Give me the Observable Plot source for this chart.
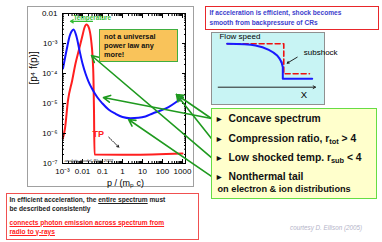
<!DOCTYPE html>
<html><head><meta charset="utf-8">
<script src="https://cdn.jsdelivr.net/npm/d3@7"></script>
<script src="https://cdn.jsdelivr.net/npm/@observablehq/plot@0.6"></script>
<style>
html,body{margin:0;padding:0;background:#fff;}
#root{position:relative;width:382px;height:242px;overflow:hidden;font-family:"Liberation Sans",Arial,Helvetica,sans-serif;}
.box{position:absolute;box-sizing:border-box;}
.ln{position:absolute;white-space:nowrap;}
sub{font-size:0.72em;vertical-align:-0.3em;line-height:0;}
#chart{position:absolute;left:0;top:0;z-index:2;pointer-events:none;}
#inset{position:absolute;left:211px;top:32px;z-index:2;}
</style></head>
<body><div id="root">
  <div class="box" style="left:27px;top:6px;width:167px;height:181px;border:1px solid #a0a0a0;z-index:0"></div>
  <div class="box" style="left:99px;top:29px;width:79px;height:33px;border:1px solid #3fae3f;background:#f9c35a;z-index:3;font-weight:bold;font-size:7.3px;color:#111;">
    <div class="ln" style="left:4px;top:1.5px;line-height:9px">not a universal</div>
    <div class="ln" style="left:4px;top:10.5px;line-height:9px">power law any</div>
    <div class="ln" style="left:4px;top:19.8px;line-height:9px">more!</div>
  </div>
  <div class="box" style="left:205px;top:6px;width:174px;height:23.5px;border:1.5px solid #e8262a;z-index:3;font-weight:bold;font-size:6.6px;color:#4040cc;">
    <div class="ln" style="left:3.5px;top:1.1px;line-height:9.4px">If acceleration is efficient, shock becomes</div>
    <div class="ln" style="left:3.5px;top:10.5px;line-height:9.4px">smooth from backpressure of CRs</div>
  </div>
  <div class="box" style="left:211px;top:32px;width:114px;height:73px;border:1px solid #909090;background:#c8f4f4;z-index:1"></div>
  <div class="box" style="left:211px;top:108px;width:166px;height:91px;border:1.5px solid #66dd44;background:#ffffcc;z-index:3;font-weight:bold;color:#111;">
    <div class="ln" style="left:3px;top:4px;font-size:8.5px;line-height:12px">►</div>
    <div class="ln" style="left:16.5px;top:3.8px;font-size:10.3px;line-height:12px">Concave spectrum</div>
    <div class="ln" style="left:3px;top:23.7px;font-size:8.5px;line-height:12px">►</div>
    <div class="ln" style="left:16.5px;top:23.5px;font-size:10.3px;line-height:12px">Compression ratio, r<sub>tot</sub> &gt; 4</div>
    <div class="ln" style="left:3px;top:43px;font-size:8.5px;line-height:12px">►</div>
    <div class="ln" style="left:16.5px;top:42.8px;font-size:10.3px;line-height:12px">Low shocked temp. r<sub>sub</sub> &lt; 4</div>
    <div class="ln" style="left:3px;top:62px;font-size:8.5px;line-height:12px">►</div>
    <div class="ln" style="left:16.5px;top:61.8px;font-size:10.3px;line-height:12px">Nonthermal tail</div>
    <div class="ln" style="left:5.5px;top:75px;font-size:9.2px;line-height:11px">on electron &amp; ion distributions</div>
  </div>
  <div class="box" style="left:6px;top:193px;width:193px;height:46.5px;border:1.5px solid #f05050;z-index:3;font-weight:bold;font-size:6.6px;">
    <div class="ln" style="left:2.5px;top:2.3px;line-height:8.4px;color:#222">In efficient acceleration, the <u>entire spectrum</u> must</div>
    <div class="ln" style="left:2.5px;top:10.6px;line-height:8.4px;color:#222">be described consistently</div>
    <div class="ln" style="left:2.5px;top:24.6px;line-height:8.4px;color:#ff2020;text-decoration:underline">connects photon emission across spectrum from</div>
    <div class="ln" style="left:2.5px;top:33.6px;line-height:8.4px;color:#ff2020;text-decoration:underline">radio to γ-rays</div>
  </div>
  <div class="ln" style="left:290px;top:224px;font-size:6.3px;line-height:7.5px;font-style:italic;color:#b4b4c8;z-index:3">courtesy D. Ellison (2005)</div>
</div>
<script>
// ---- main spectrum (p^4 f(p) vs p/(m_p c)) ----
const pBlue = [1.06e-3,1.41e-3,1.78e-3,2.24e-3,2.82e-3,3.55e-3,5.0e-3,7.1e-3,1.0e-2,1.41e-2,2.0e-2,3.16e-2,5.6e-2,0.1,0.2,0.45,1.0,2.5,6.3,14,32,80,200,450,1000];
const fBlue = [1.47e-4,3.98e-4,8.6e-4,1.71e-3,2.51e-3,2.93e-3,1.71e-3,5.85e-4,2.15e-4,1.0e-4,5.4e-5,2.93e-5,1.58e-5,1.0e-5,6.3e-6,4.54e-6,3.55e-6,3.24e-6,3.33e-6,3.69e-6,4.65e-6,5.85e-6,7.6e-6,1.08e-5,1.62e-5];
const pRed = [1.035e-3,1.33e-3,1.88e-3,3.05e-3,4.47e-3,6.5e-3,9.7e-3,1.26e-2,1.58e-2,2.07e-2,2.72e-2,3.16e-2,3.55e-2,3.76e-2,3.98e-2,2.5,1000];
const fRed = [6.8e-7,1.47e-6,1.26e-5,5.85e-5,2.15e-4,5.85e-4,1.71e-3,3.41e-3,4.3e-3,3.41e-3,1.26e-3,3.98e-4,5.85e-5,5.85e-6,2.0e-7,1.95e-7,2.15e-7];

const xTicks = [1e-3,1e-2,1e-1,1,10,100,1000];
const xTickLabels = ["10⁻³","0.01","0.1","1","10","100","1000"];
const yTicks = [1e-7,1e-6,1e-5,1e-4,1e-3,1e-2];
const yTickLabels = ["10⁻⁷","10⁻⁶","10⁻⁵","10⁻⁴","10⁻³","0.01"];
const xTitle = "p / (mₚ c)";
const yTitle = "[p⁴ f(p)]";

// annotation arrows from the list box to the curves (data units)
const linkTailP = [2.8e4,2.8e4,2.8e4,2.8e4,2.8e4];
const linkTailF = [3.16e-6,3.16e-6,6.8e-7,1.58e-7,3.7e-8];
const linkHeadP = [0.112,501,501,0.0282,2.0];
const linkHeadF = [1.58e-5,2.0e-5,2.0e-5,3.98e-4,2.93e-6];

const noteText = ["Temperature","TP","analytic model, Blasi 2002"];
const noteP = [3.5e-3,0.0316,1.26e-3];
const noteF = [7.2e-3,9.8e-7,1.2e-7];
const tempArrowP = [0.0316,0.0025];
const tempArrowF = [5.5e-3,5.5e-3];
const tpArrowP = [0.206,0.65];
const tpArrowF = [7.5e-7,3.5e-7];

// ---- flow speed inset ----
const flowCurveX = [9.2,38.3,52.0,60.6,65.1];
const flowCurveV = [1.0,0.961,0.862,0.730,0.576];
const flowDropX = [65.1,66.4,66.4,96.6];
const flowDropV = [0.576,0.461,0.194,0.194];
const stepX = [9.2,67.4,67.4,93.8];
const stepV = [1,1,0.309,0.309];

const blue = pBlue.map((p,i)=>({p, f:fBlue[i]}));
const red = pRed.map((p,i)=>({p, f:fRed[i]}));
const links = linkHeadP.map((p,i)=>({p1:linkTailP[i], f1:linkTailF[i], p2:p, f2:linkHeadF[i]}));

const minorOf = (majors, max) => majors.flatMap(d => d3.range(2,10).map(k=>d*k)).filter(v=>v<=max);
const xMinor = minorOf(xTicks, 1413);
const yMinor = minorOf(yTicks.slice(0,-1), 1e-2);
const fmtX = d => xTickLabels[xTicks.indexOf(d)];
const fmtY = d => yTickLabels[yTicks.indexOf(d)];
const blank = () => "";
const green = "#1f9a1f";

const chart = Plot.plot({
  width: 382, height: 242,
  marginLeft: 62, marginRight: 197, marginTop: 13, marginBottom: 79,
  x: {type: "log", domain: [1e-3, 1413], label: null},
  y: {type: "log", domain: [1e-7, 1e-2], label: null},
  style: {background: "transparent", fontFamily: "Liberation Sans, Arial, sans-serif", fontSize: "8px", color: "black", overflow: "visible"},
  marks: [
    Plot.line(red, {x: "p", y: "f", stroke: "#ff1f1f", strokeWidth: 2, curve: "monotone-x"}),
    Plot.line(blue, {x: "p", y: "f", stroke: "#1414ff", strokeWidth: 2, curve: "monotone-x"}),
    Plot.frame({stroke: "black", strokeWidth: 1}),
    Plot.axisX({anchor: "bottom", ticks: xMinor, tickSize: -2, tickFormat: blank, label: null}),
    Plot.axisX({anchor: "top", ticks: xMinor, tickSize: -2, tickFormat: blank, label: null}),
    Plot.axisX({anchor: "bottom", ticks: xTicks, tickSize: -4, tickFormat: blank, label: null}),
    Plot.axisX({anchor: "top", ticks: xTicks, tickSize: -4, tickFormat: blank, label: null}),
    Plot.axisY({anchor: "left", ticks: yMinor, tickSize: -2, tickFormat: blank, label: null}),
    Plot.axisY({anchor: "right", ticks: yMinor, tickSize: -2, tickFormat: blank, label: null}),
    Plot.axisY({anchor: "left", ticks: yTicks, tickSize: -4, tickFormat: blank, label: null}),
    Plot.axisY({anchor: "right", ticks: yTicks, tickSize: -4, tickFormat: blank, label: null}),
    Plot.axisX({anchor: "bottom", ticks: xTicks, tickSize: 0, tickPadding: 5, tickFormat: fmtX, label: null, fontSize: 8}),
    Plot.axisY({anchor: "left", ticks: yTicks, tickSize: 0, tickPadding: 5, tickFormat: fmtY, label: null, fontSize: 8}),
    Plot.text([xTitle], {text: d=>d, frameAnchor: "bottom", dy: 22, dx: 1.5, fontSize: 9}),
    Plot.text([yTitle], {text: d=>d, frameAnchor: "left", dx: -29, dy: -4, rotate: -90, fontSize: 10}),
    Plot.arrow([0], {x1: ()=>tempArrowP[0], y1: ()=>tempArrowF[0], x2: ()=>tempArrowP[1], y2: ()=>tempArrowF[1], stroke: "#33bb33", strokeWidth: 1.2, headLength: 4}),
    Plot.text([0], {x: ()=>noteP[0], y: ()=>noteF[0], text: ()=>noteText[0], textAnchor: "start", fill: "#33bb33", fontWeight: "bold", fontSize: 6.3}),
    Plot.text([1], {x: ()=>noteP[1], y: ()=>noteF[1], text: ()=>noteText[1], textAnchor: "start", fill: "#ff2020", fontWeight: "bold", fontSize: 9}),
    Plot.text([2], {x: ()=>noteP[2], y: ()=>noteF[2], text: ()=>noteText[2], textAnchor: "start", fill: "#222", fontStyle: "italic", fontSize: 4.2}),
    Plot.arrow([0], {x1: ()=>tpArrowP[0], y1: ()=>tpArrowF[0], x2: ()=>tpArrowP[1], y2: ()=>tpArrowF[1], stroke: "black", strokeWidth: 0.9, strokeDasharray: "1.5,1.2", headLength: 3.5}),
    Plot.arrow(links, {x1: "p1", y1: "f1", x2: "p2", y2: "f2", stroke: green, strokeWidth: 1.6, headLength: 7, headAngle: 55})
  ]
});
chart.id = "chart";
document.getElementById("root").appendChild(chart);

const curveData = flowCurveX.map((x,i)=>({x, v:flowCurveV[i]}));
const dropData = flowDropX.map((x,i)=>({x, v:flowDropV[i]}));
const stepData = stepX.map((x,i)=>({x, v:stepV[i]}));
const inset = Plot.plot({
  width: 114, height: 73,
  marginLeft: 6.7, marginRight: 10, marginTop: 11.3, marginBottom: 18.3,
  x: {domain: [0, 100], axis: null},
  y: {domain: [0, 1], axis: null},
  style: {background: "transparent", fontFamily: "Liberation Sans, Arial, sans-serif", overflow: "visible", color: "black"},
  marks: [
    Plot.arrow([0], {x1: 0, y1: 0, x2: 100, y2: 0, stroke: "#222", strokeWidth: 1, headLength: 4}),
    Plot.line(stepData, {x: "x", y: "v", stroke: "#ee1111", strokeWidth: 1.6, strokeDasharray: "5,3"}),
    Plot.line(curveData, {x: "x", y: "v", stroke: "#1a1aff", strokeWidth: 2, curve: "catmull-rom"}),
    Plot.line(dropData, {x: "x", y: "v", stroke: "#1a1aff", strokeWidth: 2}),
    Plot.text(["Flow speed"], {x: 1.3, y: 1.175, text: d=>d, textAnchor: "start", fontSize: 8}),
    Plot.text(["subshock"], {x: 88, y: 0.79, text: d=>d, textAnchor: "start", fontSize: 8}),
    Plot.text(["X"], {x: 88, y: -0.17, text: d=>d, fontSize: 9.5}),
    Plot.arrow([0], {x1: 81.2, y1: 0.691, x2: 70.9, y2: 0.553, stroke: "#111", strokeWidth: 0.9, headLength: 3.5})
  ]
});
inset.id = "inset";
document.getElementById("root").appendChild(inset);
</script>
</body></html>
